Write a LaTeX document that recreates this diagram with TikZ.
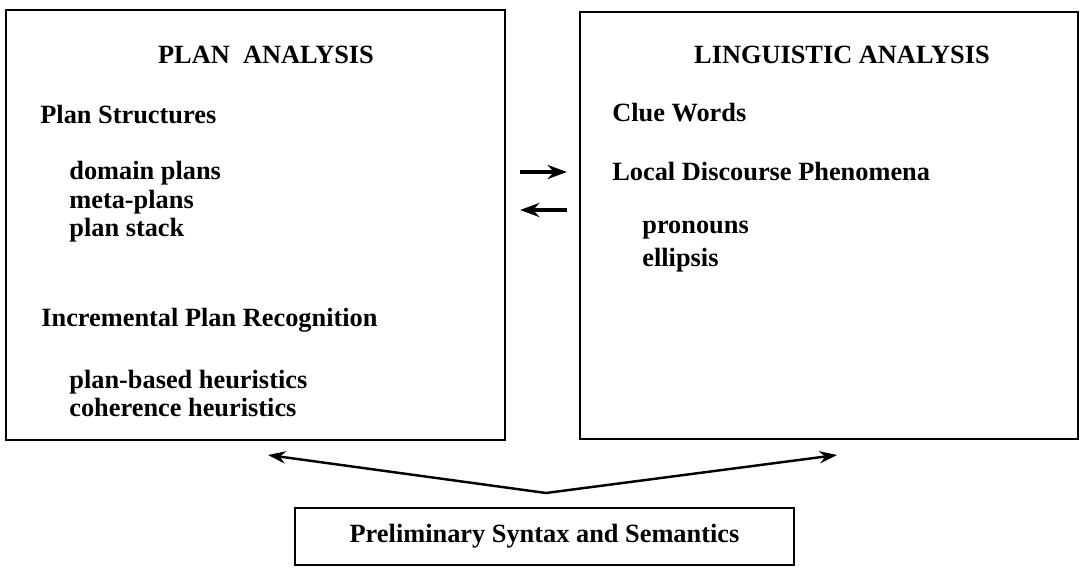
\documentclass[tikz,border=0pt]{standalone}
\usepackage{fontspec}
\setmainfont{Liberation Serif}
\usetikzlibrary{arrows.meta}
\tikzset{
  box/.style={draw, line width=1.3pt, inner sep=0pt},
  txt/.style={anchor=west, inner sep=0pt, font=\fontsize{15}{17}\selectfont\bfseries},
  head/.style={inner sep=0pt, font=\fontsize{15}{17}\selectfont\bfseries},
  arr/.style={line width=1.4pt, -{Stealth[length=10pt, width=7pt]}},
  fatarr/.style={line width=2pt, -{Stealth[length=11pt, width=8pt]}}
}
\begin{document}
\begin{tikzpicture}[x=0.02cm, y=-0.02cm]
    \useasboundingbox (0,0) rectangle (1082,570);

    % Caja de analisis de planes
    \node[box, minimum width=9.98cm, minimum height=8.6cm] (plan) at (255.5,225) {};
    \node[head] (planhead) at (266,55) {PLAN\ \ ANALYSIS};
    \node[txt] (pstruct) at (40,115) {Plan Structures};
    \node[txt] (pdomain) at (69,173) {domain plans};
    \node[txt] (pmeta) at (69,202) {meta-plans};
    \node[txt] (pstack) at (69,230) {plan stack};
    \node[txt] (pincr) at (41,320) {Incremental Plan Recognition};
    \node[txt] (pbased) at (69,382) {plan-based heuristics};
    \node[txt] (pcoher) at (69,408) {coherence heuristics};

    % Caja de analisis linguistico
    \node[box, minimum width=9.96cm, minimum height=8.54cm] (ling) at (829,225.5) {};
    \node[head] (linghead) at (842,55) {LINGUISTIC ANALYSIS};
    \node[txt] (lclue) at (612,113) {Clue Words};
    \node[txt] (llocal) at (612,172) {Local Discourse Phenomena};
    \node[txt] (lpron) at (642,230) {pronouns};
    \node[txt] (lellip) at (642,260) {ellipsis};

    % Caja de sintaxis
    \node[box, txt, anchor=center, minimum width=9.98cm, minimum height=1.14cm] (syn) at (544.5,536.5) {Preliminary Syntax and Semantics};

    % Flechas entre cajas
    \draw[fatarr] ([xshift=0.28cm, yshift=1.06cm]plan.east) -- ([xshift=-0.24cm, yshift=1.07cm]ling.west);
    \draw[fatarr] ([xshift=-0.24cm, yshift=0.31cm]ling.west) -- ([xshift=0.28cm, yshift=0.30cm]plan.east);

    % Flechas hacia arriba
    \coordinate (apex) at (546,493);
    \coordinate (lend) at (268,455);
    \coordinate (rend) at (837,455);
    \draw[arr] (apex) -- (lend);
    \draw[arr] (apex) -- (rend);
\end{tikzpicture}
\end{document}
